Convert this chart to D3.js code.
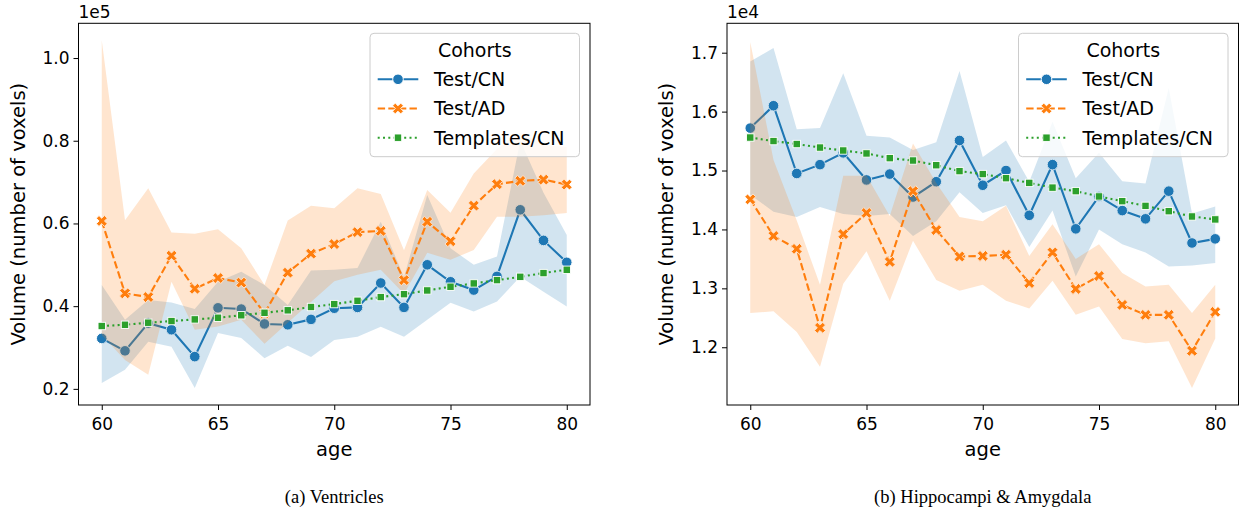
<!DOCTYPE html>
<html>
<head>
<meta charset="utf-8">
<script src="https://cdn.jsdelivr.net/npm/d3@7"></script>
<style>
  body { margin: 0; background: #fff; }
  text { font-family: "DejaVu Sans", sans-serif; }
</style>
</head>
<body>
<svg id="fig" width="1247" height="512"></svg>
<script>
// ages on the x axis
var ages = [60,61,62,63,64,65,66,67,68,69,70,71,72,73,74,75,76,77,78,79,80];
var xTicks = [60,65,70,75,80];

// (a) Ventricles, units of 1e5 voxels
var ventCN   = [0.322,0.292,0.359,0.343,0.278,0.396,0.393,0.357,0.355,0.368,0.395,0.397,0.456,0.397,0.500,0.459,0.439,0.472,0.633,0.559,0.506];
var ventCNLo = [0.214,0.246,0.314,0.302,0.202,0.335,0.323,0.274,0.304,0.277,0.318,0.326,0.350,0.326,0.367,0.408,0.387,0.411,0.471,0.435,0.399];
var ventCNHi = [0.451,0.367,0.415,0.409,0.393,0.459,0.483,0.451,0.403,0.486,0.488,0.492,0.604,0.470,0.669,0.540,0.500,0.520,0.800,0.674,0.572];
var ventAD   = [0.606,0.431,0.422,0.522,0.442,0.468,0.457,0.383,0.481,0.527,0.550,0.579,0.582,0.463,0.604,0.557,0.643,0.695,0.703,0.706,0.694];
var ventADLo = [0.330,0.270,0.234,0.459,0.343,0.351,0.367,0.309,0.360,0.410,0.460,0.476,0.488,0.430,0.529,0.512,0.536,0.616,0.616,0.620,0.625];
var ventADHi = [1.043,0.608,0.685,0.578,0.575,0.586,0.540,0.451,0.607,0.643,0.637,0.685,0.671,0.535,0.681,0.626,0.721,0.780,0.820,0.790,0.785];
var ventTpl  = [0.352,0.355,0.360,0.364,0.368,0.372,0.378,0.384,0.390,0.398,0.405,0.413,0.422,0.429,0.438,0.447,0.455,0.463,0.471,0.480,0.488];
var ventTicks = [0.2,0.4,0.6,0.8,1.0];

// (b) Hippocampi & Amygdala, units of 1e4 voxels
var hipCN   = [1.572,1.610,1.495,1.510,1.530,1.484,1.494,1.455,1.481,1.551,1.475,1.500,1.424,1.510,1.401,1.456,1.432,1.418,1.465,1.377,1.384];
var hipCNLo = [1.459,1.430,1.421,1.438,1.426,1.423,1.426,1.389,1.414,1.463,1.428,1.441,1.370,1.432,1.320,1.400,1.375,1.361,1.337,1.339,1.343];
var hipCNHi = [1.685,1.708,1.570,1.572,1.665,1.559,1.556,1.535,1.548,1.669,1.523,1.551,1.481,1.583,1.487,1.530,1.482,1.478,1.640,1.427,1.439];
var hipAD   = [1.451,1.389,1.367,1.233,1.392,1.428,1.345,1.465,1.399,1.354,1.355,1.357,1.309,1.361,1.299,1.321,1.272,1.255,1.255,1.194,1.260];
var hipADLo = [1.258,1.261,1.226,1.167,1.308,1.363,1.279,1.381,1.314,1.296,1.306,1.279,1.266,1.313,1.255,1.269,1.214,1.207,1.210,1.131,1.215];
var hipADHi = [1.718,1.518,1.415,1.306,1.491,1.491,1.423,1.546,1.479,1.421,1.414,1.440,1.355,1.409,1.350,1.375,1.326,1.303,1.306,1.258,1.306];
var hipTpl  = [1.556,1.550,1.545,1.539,1.534,1.529,1.521,1.517,1.509,1.499,1.494,1.487,1.479,1.471,1.465,1.456,1.448,1.440,1.431,1.422,1.417];
var hipTicks = [1.2,1.3,1.4,1.5,1.6,1.7];

var cohorts = ["Test/CN", "Test/AD", "Templates/CN"];
var colors = ["#1f77b4", "#ff7f0e", "#2ca02c"];
var dashes = [null, "7.4,3.2", "2,3.3"];

var svg = d3.select("#fig");
var marginTop = 23.3, W = 511.5, H = 381.7;

function marker(sel, i) {
  if (i === 0) {
    sel.append("circle").attr("r", 5.3).attr("fill", colors[0])
      .attr("stroke", "#fff").attr("stroke-width", 1);
  } else if (i === 1) {
    sel.append("path").attr("d", d3.symbol(d3.symbolCross, 74)())
      .attr("transform", "rotate(45)")
      .attr("fill", colors[1]).attr("stroke", "#fff").attr("stroke-width", 0.9);
  } else {
    sel.append("rect").attr("x", -3.7).attr("y", -3.7).attr("width", 7.4).attr("height", 7.4)
      .attr("fill", colors[2]).attr("stroke", "#fff").attr("stroke-width", 0.9);
  }
}

function panel(cfg) {
  var g = svg.append("g").attr("transform", "translate(" + cfg.left + "," + marginTop + ")");
  var x = d3.scaleLinear().domain([59, 81]).range([0, W]);
  var y = d3.scaleLinear().domain(cfg.yDomain).range([H, 0]);

  var clipId = "clip" + cfg.id;
  g.append("clipPath").attr("id", clipId)
    .append("rect").attr("width", W).attr("height", H);
  var plot = g.append("g").attr("clip-path", "url(#" + clipId + ")");

  var line = d3.line().x(function(d) { return x(d[0]); }).y(function(d) { return y(d[1]); });
  var area = d3.area().x(function(d) { return x(d[0]); })
    .y0(function(d) { return y(d[1]); }).y1(function(d) { return y(d[2]); });

  cfg.series.forEach(function(s, i) {
    var pts = ages.map(function(a, k) { return [a, s.mean[k]]; });
    plot.append("path").attr("d", line(pts))
      .attr("fill", "none").attr("stroke", colors[i]).attr("stroke-width", 2.1)
      .attr("stroke-dasharray", dashes[i]);
    plot.selectAll(null).data(pts).enter().append("g")
      .attr("transform", function(d) { return "translate(" + x(d[0]) + "," + y(d[1]) + ")"; })
      .each(function() { marker(d3.select(this), i); });
    if (s.lo) {
      var band = ages.map(function(a, k) { return [a, s.lo[k], s.hi[k]]; });
      plot.append("path").attr("d", area(band))
        .attr("fill", colors[i]).attr("fill-opacity", 0.2);
    }
  });

  // axes
  var xa = g.append("g").attr("transform", "translate(0," + H + ")")
    .call(d3.axisBottom(x).tickValues(xTicks).tickSize(5).tickSizeOuter(0).tickPadding(4));
  var ya = g.append("g")
    .call(d3.axisLeft(y).tickValues(cfg.ticks).tickFormat(d3.format(".1f"))
      .tickSize(5).tickSizeOuter(0).tickPadding(4));
  [xa, ya].forEach(function(a) {
    a.select(".domain").remove();
    a.selectAll("line").attr("stroke", "#000").attr("stroke-width", 1);
    a.selectAll("text").attr("fill", "#000").style("font-size", "17px")
      .style("font-family", "'DejaVu Sans', sans-serif");
  });
  xa.selectAll("text").attr("dy", "0.95em");

  g.append("rect").attr("width", W).attr("height", H)
    .attr("fill", "none").attr("stroke", "#000").attr("stroke-width", 1);

  g.append("text").attr("x", 0).attr("y", -5).style("font-size", "17px").text(cfg.offset);
  g.append("text").attr("x", W / 2).attr("y", H + 51).attr("text-anchor", "middle")
    .style("font-size", "19.5px").text("age");
  g.append("text").attr("transform", "translate(-54," + (H / 2) + ") rotate(-90)")
    .attr("text-anchor", "middle").style("font-size", "19.5px")
    .text("Volume (number of voxels)");

  // caption
  svg.append("text").attr("x", cfg.left + W / 2).attr("y", 503).attr("text-anchor", "middle")
    .style("font-family", "'Liberation Serif', serif").style("font-size", "18.5px")
    .text(cfg.caption);

  // legend
  var lg = g.append("g").attr("transform", "translate(" + (W - 10.5 - 209.5) + ",10)");
  lg.append("rect").attr("width", 209.5).attr("height", 123.4).attr("rx", 4)
    .attr("fill", "#fff").attr("fill-opacity", 0.8).attr("stroke", "#ccc").attr("stroke-width", 1);
  lg.append("text").attr("x", 104.75).attr("y", 23.5).attr("text-anchor", "middle")
    .style("font-size", "19px").text("Cohorts");
  cohorts.forEach(function(c, i) {
    var cy = 46 + i * 29.2;
    lg.append("line").attr("x1", 7.7).attr("x2", 48.3).attr("y1", cy).attr("y2", cy)
      .attr("stroke", colors[i]).attr("stroke-width", 2.1).attr("stroke-dasharray", dashes[i]);
    lg.append("g").attr("transform", "translate(28," + cy + ")").call(marker, i);
    lg.append("text").attr("x", 64).attr("y", cy + 7).style("font-size", "19px").text(c);
  });
}

panel({
  id: "a", left: 78.5, yDomain: [0.161, 1.084], ticks: ventTicks, offset: "1e5",
  caption: "(a) Ventricles",
  series: [
    { mean: ventCN, lo: ventCNLo, hi: ventCNHi },
    { mean: ventAD, lo: ventADLo, hi: ventADHi },
    { mean: ventTpl }
  ]
});

panel({
  id: "b", left: 727, yDomain: [1.102, 1.7499], ticks: hipTicks, offset: "1e4",
  caption: "(b) Hippocampi & Amygdala",
  series: [
    { mean: hipCN, lo: hipCNLo, hi: hipCNHi },
    { mean: hipAD, lo: hipADLo, hi: hipADHi },
    { mean: hipTpl }
  ]
});
</script>
</body>
</html>
